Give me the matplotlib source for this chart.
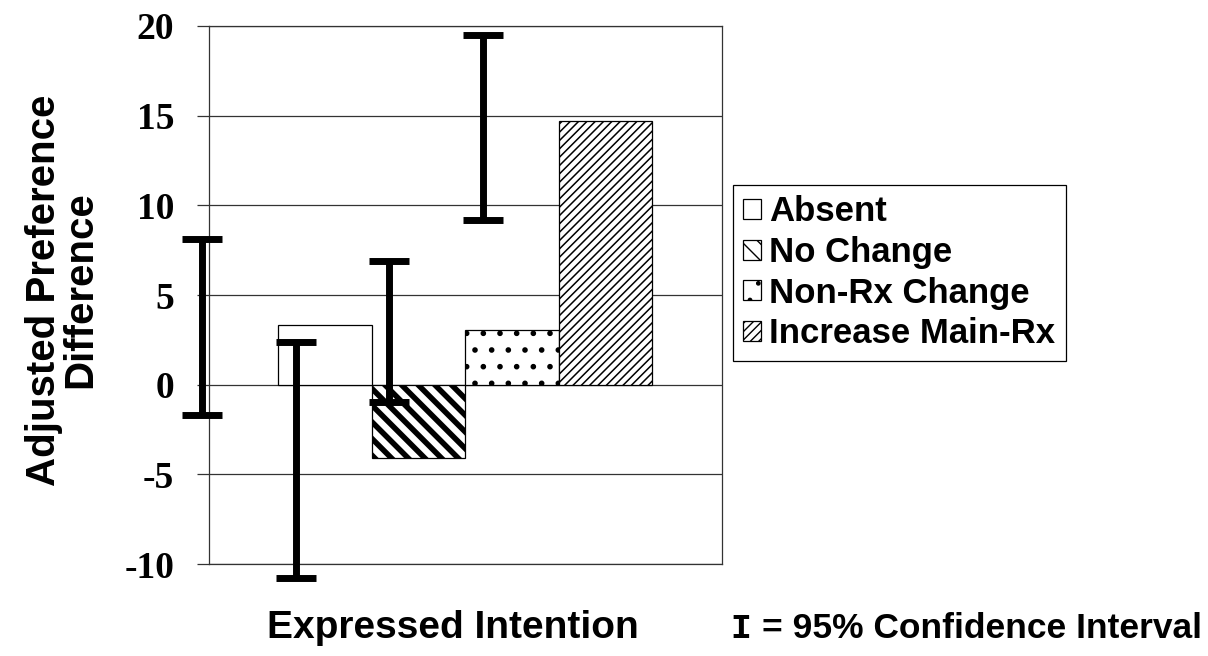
import matplotlib.pyplot as plt
import numpy as np

# values
groups = ["Absent", "No Change", "Non-Rx Change", "Increase Main-Rx"]
means = [3.3, -4.1, 3.05, 14.7]
ci_low = [-1.7, -10.8, -0.95, 9.2]
ci_high = [8.1, 2.4, 6.9, 19.5]
hatches = ["", "\\\\", ".", "////"]
hatch_widths = [1.0, 4.0, 1.6, 1.1]
yticks = [-10, -5, 0, 5, 10, 15, 20]

fig = plt.figure(figsize=(12.08, 6.56), dpi=100)
ax = fig.add_axes([0.173, 0.1402, 0.4247, 0.8202])

x = np.arange(len(groups))
for i in range(len(groups)):
    with plt.rc_context({"hatch.linewidth": hatch_widths[i]}):
        b = ax.bar(x[i], means[i], width=1.0, color="white", edgecolor="black",
                   linewidth=0.9, hatch=hatches[i], label=groups[i], zorder=2)
    for p in b:
        if hasattr(p, "set_hatch_linewidth"):
            p.set_hatch_linewidth(hatch_widths[i])

# the confidence intervals sit shifted left of their bars in the original
err_x = x - 1.31
means_arr = np.array(means)
yerr = [means_arr - np.array(ci_low), np.array(ci_high) - means_arr]
eb = ax.errorbar(err_x, means_arr, yerr=yerr, fmt="none", ecolor="black",
                 elinewidth=5, capsize=14.5, capthick=5, zorder=4)
for artist in eb.lines[1] + eb.lines[2]:
    artist.set_clip_on(False)

ax.set_xlim(-1.24, 4.246)
ax.set_ylim(-10, 20)
ax.set_yticks(yticks)
ax.set_yticklabels([str(t) for t in yticks], fontfamily="Liberation Serif",
                   fontweight="bold", fontsize=27)
ax.set_xticks([])
ax.tick_params(axis="y", direction="out", length=9, width=0.9, color="#333333", pad=16)
ax.grid(axis="y", color="#333333", linewidth=0.9, zorder=0)
ax.set_axisbelow(True)
for s in ax.spines.values():
    s.set_linewidth(0.9)
    s.set_color("#333333")

fig.text(0.0513, 0.558, "Adjusted Preference\nDifference", rotation=90,
         ha="center", va="center", multialignment="center", linespacing=0.95,
         fontfamily="Liberation Sans", fontweight="bold", fontsize=29)
fig.text(0.375, 1 - 638 / 656, "Expressed Intention", ha="center", va="baseline",
         fontfamily="Liberation Sans", fontweight="bold", fontsize=28)
fig.text(730 / 1208, 1 - 638 / 656, "I", ha="left", va="baseline",
         fontfamily="Liberation Mono", fontweight="bold", fontsize=25)
fig.text(762 / 1208, 1 - 638 / 656, "= 95% Confidence Interval", ha="left",
         va="baseline", fontfamily="Liberation Sans", fontweight="bold", fontsize=25.5)

leg = fig.legend(loc="upper left", bbox_to_anchor=(733 / 1208, 1 - 185 / 656),
                 prop={"family": "Liberation Sans", "weight": "bold", "size": 25},
                 handlelength=0.5, handleheight=0.5, handletextpad=0.25,
                 labelspacing=0.22, borderpad=0.3, borderaxespad=0,
                 fancybox=False, framealpha=1, edgecolor="black")
leg.get_frame().set_linewidth(0.9)

fig.savefig("out.png", dpi=100)
